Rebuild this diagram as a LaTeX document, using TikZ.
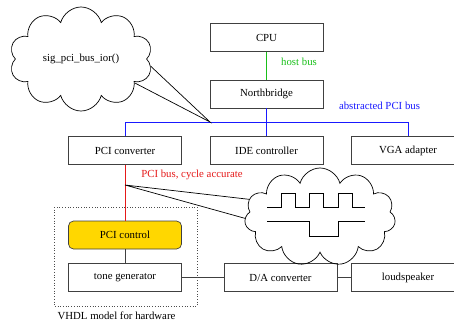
\documentclass[tikz,border=0pt]{standalone}
\usepackage{fontspec}
\setmainfont{Liberation Serif}
\usepackage{tikz}
\usetikzlibrary{shapes,shapes.symbols}
\definecolor{hostcol}{rgb}{0.1, 0.75, 0.1}
\definecolor{buscol}{rgb}{0.1, 0.1, 1}
\definecolor{cyclecol}{rgb}{0.9, 0.1, 0.1}
\definecolor{ctrlcol}{rgb}{1, 0.843, 0}
\tikzstyle{every node}=[font=\rmfamily\fontsize{10.8}{13}\selectfont]
\tikzstyle{block}=[rectangle,draw=black!75,line width=0.7pt,minimum width=113pt,minimum height=28pt,inner sep=0pt]
\tikzstyle{ctrl block}=[block,rounded corners=5pt,fill=ctrlcol]
\tikzstyle{thought}=[cloud,draw,line width=0.7pt,cloud puffs=10,cloud ignores aspect,inner sep=0pt]
\newcommand{\pulse}[1]{
  -- (#1, 207) -- (#1, 193) -- (#1+14, 193) -- (#1+14, 207)
}

\begin{document}
\begin{tikzpicture}[x=1pt,y=-1pt]
\useasboundingbox (0,0) rectangle (454,322);

% blocks
\node[block] (cpu) at (266.5, 37.5) {CPU};
\node[block] (nb) at (266.5, 94) {Northbridge};

\node[block] (pciconv) at (125, 150.5) {PCI converter};
\node[block] (ide) at (266.5, 150.5) {IDE controller};
\node[block] (vga) at (408, 150.5) {VGA adapter};

\node[ctrl block] (pcictrl) at (125, 235) {PCI control};
\node[block] (tone) at (125, 277.5) {tone generator};
\node[block] (dac) at (280.5, 277.5) {D/A converter};
\node[block] (speaker) at (408, 277.5) {loudspeaker};

\coordinate (busr) at (408, 122);
\coordinate (tap) at (210, 122);
\coordinate (cyctap) at (125, 185);

% host bus
\draw[hostcol, line width=0.7pt] (cpu.south) -- (nb.north);
\node[text=hostcol] (hostlbl) at (299, 62) {host bus};

% abstracted PCI bus
\draw[buscol, line width=0.7pt] (pciconv.north) |- (busr) -- (vga.north);
\draw[buscol, line width=0.7pt] (nb.south) -- (ide.north);
\node[text=buscol] (buslbl) at (379.5, 106) {abstracted PCI bus};

% cycle accurate bus
\draw[cyclecol, line width=0.7pt] (pciconv.south) -- (pcictrl.north);
\node[text=cyclecol] (cyclbl) at (192, 175) {PCI bus, cycle accurate};

\draw[black!75, line width=0.7pt] (pcictrl.south) -- (tone.north);
\draw[black!75, line width=0.7pt] (tone.east) -- (dac.west);
\draw[black!75, line width=0.7pt] (dac.east) -- (speaker.west);

% VHDL box
\draw[black!70, dotted, line width=0.7pt] (54, 207) rectangle (197, 306);
\node (vhdllbl) at (116.5, 316) {VHDL model for hardware};

% clouds
\node[thought, minimum width=143pt, minimum height=104pt] (lcloud) at (81, 59) {sig\_pci\_bus\_ior()};
\draw[line width=0.7pt] (lcloud.-6) -- (tap) -- (lcloud.-24);

\node[thought, cloud puffs=11, minimum width=151pt, minimum height=98pt] (rcloud) at (320, 217) {};
\draw[line width=0.7pt] (rcloud.166) -- (cyctap) -- (rcloud.181);

% waveforms
\draw[line width=0.7pt] (267, 207) \pulse{281} \pulse{309} \pulse{338} -- (365, 207);
\draw[line width=0.7pt] (267, 221) -- (309, 221) -- (309, 236) -- (338, 236) -- (338, 221) -- (365, 221);

\end{tikzpicture}
\end{document}
